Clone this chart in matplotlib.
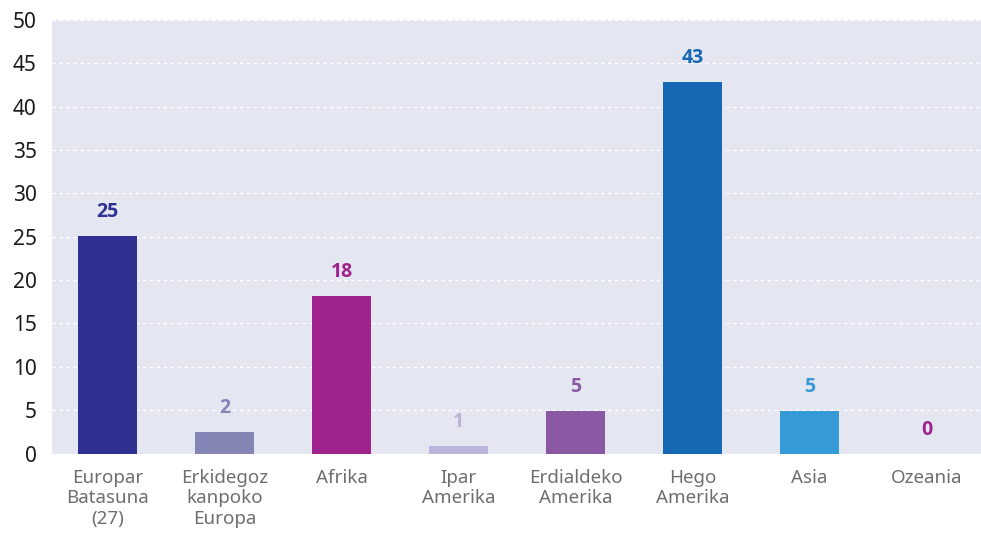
import matplotlib
matplotlib.use("Agg")
import matplotlib.pyplot as plt
from matplotlib.ticker import MultipleLocator

categories = ["Europar\nBatasuna\n(27)", "Erkidegoz\nkanpoko\nEuropa", "Afrika", "Ipar\nAmerika",
              "Erdialdeko\nAmerika", "Hego\nAmerika", "Asia", "Ozeania"]
values = [25.1, 2.5, 18.2, 0.9, 4.9, 42.9, 4.9, 0.0]
labels = ["25", "2", "18", "1", "5", "43", "5", "0"]
bar_colors = ["#2E3192", "#8585B5", "#A0228D", "#BCB5DB", "#8B58A3", "#1668B4", "#349BD7", "#A0228D"]

plt.rcParams['font.family'] = ['Noto Sans', 'DejaVu Sans']

fig = plt.figure(figsize=(9.81, 5.36), dpi=100)
W, H = 981, 536
ax = fig.add_axes([52 / W, 1 - 453.5 / H, (981 - 52) / W, (453.5 - 20) / H])
ax.set_facecolor("#E4E6F2")

x = list(range(len(categories)))
ax.bar(x, values, width=0.5, color=bar_colors, zorder=3)
ax.set_xlim(-0.474, 7.466)
ax.set_ylim(0, 50)
ax.yaxis.set_major_locator(MultipleLocator(5))
ax.grid(axis="y", color="white", linestyle=(0, (2.5, 2.5)), linewidth=1.0, zorder=1)
ax.set_axisbelow(True)
for s in ax.spines.values():
    s.set_visible(False)

ax.set_xticks(x)
ax.set_xticklabels(categories, fontsize=13.5, color="#6E6E6E", linespacing=1.17)
ax.tick_params(axis="x", length=0, pad=11)
ax.tick_params(axis="y", length=0, pad=11, labelsize=15, labelcolor="#1A1A1A")

for xi, v, lab, c in zip(x, values, labels, bar_colors):
    ax.annotate(lab, (xi, v), xytext=(0, 10), textcoords="offset points",
                ha="center", va="bottom", fontsize=14, fontweight="bold", color=c,
                family=["Open Sans", "Lato", "DejaVu Sans"])

fig.savefig("out.png", dpi=100)
